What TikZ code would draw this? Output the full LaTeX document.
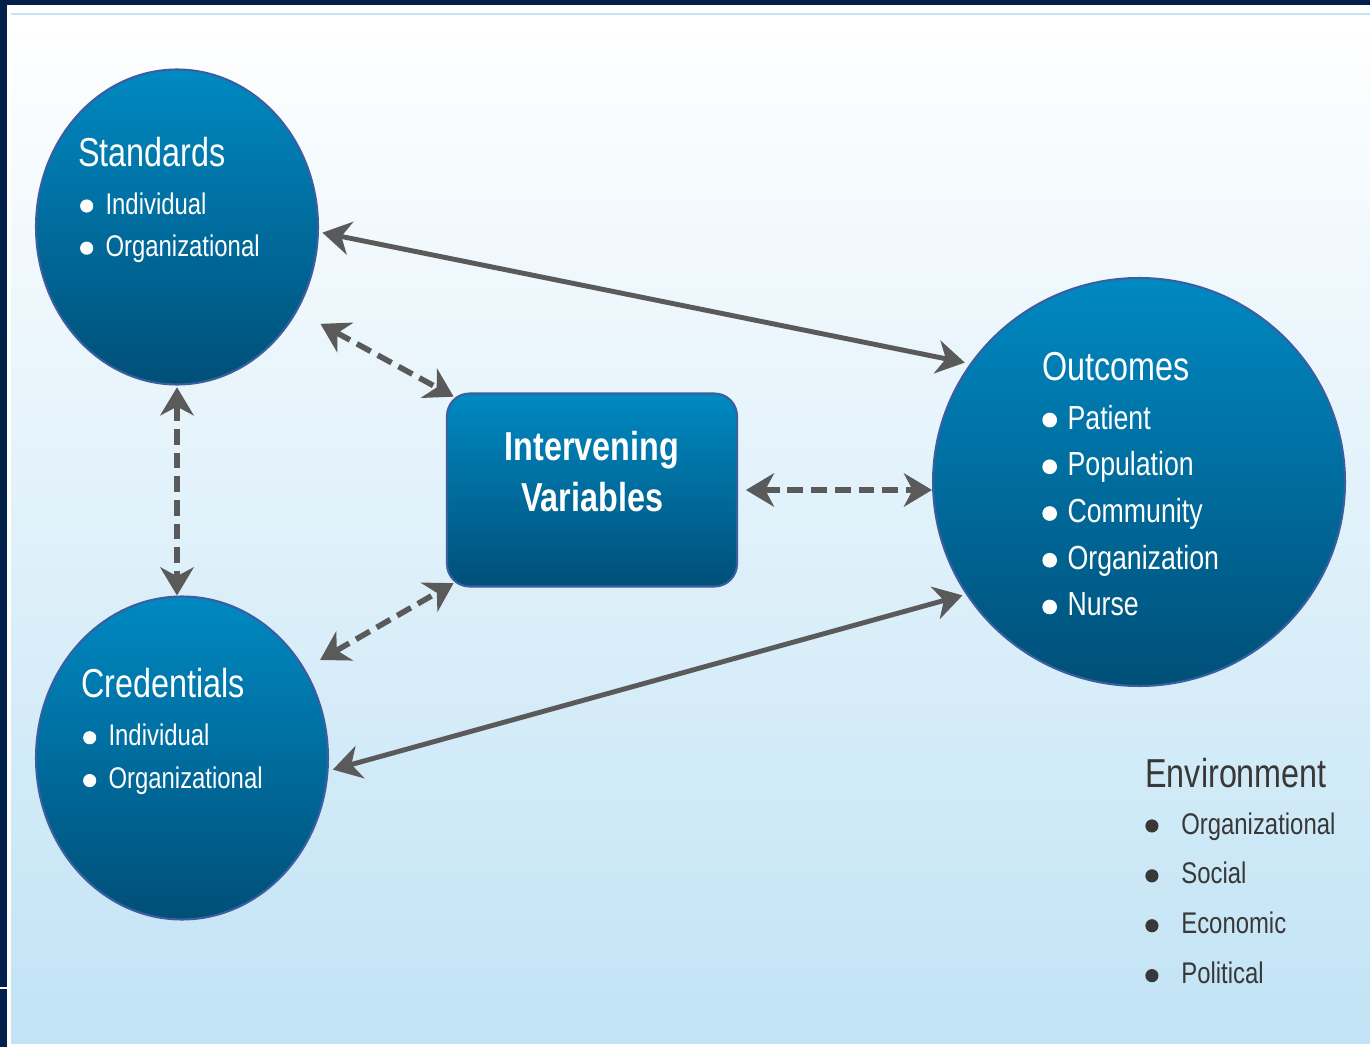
\documentclass[tikz,border=0pt]{standalone}
\usepackage{fontspec}
\setmainfont{Liberation Sans}[FakeStretch=0.8]
\usetikzlibrary{shapes.geometric,arrows.meta}

\definecolor{navy}{HTML}{03204B}
\definecolor{paleblue}{HTML}{C1E3F5}
\definecolor{blobtop}{HTML}{0089C2}
\definecolor{blobbot}{HTML}{004F78}
\definecolor{blobedge}{HTML}{3A5FA0}
\definecolor{arrowgrey}{HTML}{5A5A5A}
\definecolor{envtext}{HTML}{383838}

% round bullet
\newcommand{\blt}{\raisebox{0.05em}{\tikz\fill (0,0) circle (0.22em);}}

\tikzset{
  blob/.style={ellipse, draw=blobedge, line width=1.2pt, top color=blobtop, bottom color=blobbot, inner sep=0pt},
  varbox/.style={rectangle, rounded corners=0.45cm, draw=blobedge, line width=1.2pt, top color=blobtop, bottom color=blobbot, minimum width=5.8cm, minimum height=3.86cm},
  blobtext/.style={text=white, align=left, anchor=north west, inner sep=0pt},
  link/.style={color=arrowgrey, line width=2.8pt, {Stealth[length=16pt,width=19pt,inset=5pt]}-{Stealth[length=16pt,width=19pt,inset=5pt]}},
  dashlink/.style={link, line width=3.2pt, dash pattern=on 9pt off 4.5pt}
}

\begin{document}
\begin{tikzpicture}[x=0.02cm, y=-0.02cm]
  % Background
  \fill[white] (0,0) rectangle (1370,1047);
  \useasboundingbox (0,0) rectangle (1370,1047);
  \fill[navy] (0,0) rectangle (1370,5);
  \fill[navy] (0,0) rectangle (7,1047);
  \fill[white] (0,987) rectangle (7,989);
  \shade[top color=white, bottom color=paleblue] (11,14) rectangle (1370,1043);
  \draw[paleblue, line width=1pt] (11,14) -- (1370,14);

  % Nodes
  \node[blob, minimum width=5.64cm, minimum height=6.3cm] (std) at (177,227) {};
  \node[blob, minimum width=5.84cm, minimum height=6.46cm] (cred) at (182,758) {};
  \node[blob, minimum width=8.24cm, minimum height=8.16cm] (out) at (1139,482) {};
  \node[varbox] (iv) at (592,490) {};

  % Texts
  \node[blobtext, font=\fontsize{17}{24}\selectfont] (stdtxt) at (78,137)
    {{\fontsize{23}{24}\selectfont Standards}\\[3pt]
     \hspace{1pt}\blt\hspace{7pt}Individual\\
     \hspace{1pt}\blt\hspace{7pt}Organizational};
  \node[blobtext, font=\fontsize{17}{24.4}\selectfont] (credtxt) at (81,668)
    {{\fontsize{23}{24}\selectfont Credentials}\\[3pt]
     \hspace{1pt}\blt\hspace{7pt}Individual\\
     \hspace{1pt}\blt\hspace{7pt}Organizational};
  \node[blobtext, font=\fontsize{19}{26.6}\selectfont] (outtxt) at (1042,352)
    {{\fontsize{23}{24}\selectfont Outcomes}\\[1pt]
     \blt\hspace{6pt}Patient\\
     \blt\hspace{6pt}Population\\
     \blt\hspace{6pt}Community\\
     \blt\hspace{6pt}Organization\\
     \blt\hspace{6pt}Nurse};
  \node[blobtext, text=envtext, font=\fontsize{17}{28.4}\selectfont] (envtxt) at (1145,758)
    {{\fontsize{23}{24}\selectfont Environment}\\[-2pt]
     \blt\hspace{13pt}Organizational\\
     \blt\hspace{13pt}Social\\
     \blt\hspace{13pt}Economic\\
     \blt\hspace{13pt}Political};
  \node[text=white, align=center, font=\bfseries\fontsize{23}{29.5}\selectfont] (ivtxt)
    at ([yshift=10.5pt]iv.center) {Intervening\\Variables};

  % Arrows
  \draw[link, shorten <=2pt, shorten >=3pt] (std.-2) -- (out.145);
  \draw[link, shorten <=2.5pt, shorten >=2pt] (cred.-5) -- (out.213);
  \draw[dashlink, shorten <=15pt, shorten >=-5pt] (std.-35) -- (iv.north west);
  \draw[dashlink, shorten <=10pt, shorten >=-5pt] (cred.36) -- (iv.south west);
  \draw[dashlink, shorten <=4.5pt] (iv.east) -- (iv.east -| out.west);
  \draw[dashlink, shorten <=1pt] (std.south) -- (std.south |- cred.north);
\end{tikzpicture}
\end{document}
